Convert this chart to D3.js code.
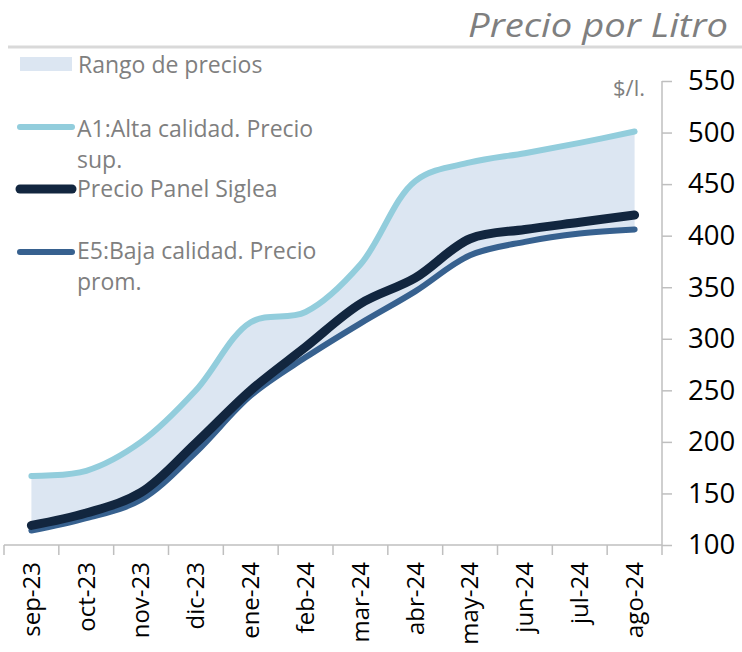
<!DOCTYPE html>
<html><head><meta charset="utf-8">
<script src="https://cdn.jsdelivr.net/npm/d3@7"></script>
<style>body{margin:0;background:#fff}svg{display:block}</style>
</head><body>
<script>
const categories = ["sep-23","oct-23","nov-23","dic-23","ene-24","feb-24","mar-24","abr-24","may-24","jun-24","jul-24","ago-24"];
const altaCalidad = [167,172,200,250,316,326,372,453,471,480,490,501];
const panelSiglea = [119,131,151,199,250,292,334,359,397,406,413,420];
const bajaCalidad = [114,126,144,190,245,282,315,346,381,394,402,406];
const yTicks = [100,150,200,250,300,350,400,450,500,550];
const title = "Precio por Litro";
const unit = "$/l.";
const legendItems = ["Rango de precios","A1:Alta calidad. Precio sup.","Precio Panel Siglea","E5:Baja calidad. Precio prom."];

const W = 742, H = 652;
const svg = d3.select("body").append("svg").attr("width", W).attr("height", H);
const font = "'Open Sans', sans-serif";

const x = d3.scaleBand().domain(categories).range([4, 662]);
const y = d3.scaleLinear().domain([100, 550]).range([545, 81]);
const cx = d => x(d) + x.bandwidth() / 2;

// title + rule
svg.append("text").attr("x", 728).attr("y", 37).attr("text-anchor", "end")
  .attr("font-family", font).attr("font-style", "italic").attr("font-size", 32)
  .attr("textLength", 260).attr("lengthAdjust", "spacingAndGlyphs")
  .attr("fill", "#7f7f7f").text(title);
svg.append("line").attr("x1", 8).attr("x2", 742).attr("y1", 47).attr("y2", 47)
  .attr("stroke", "#d9d9d9").attr("stroke-width", 3);

// area
const rows = categories.map((c, i) => ({c, hi: altaCalidad[i], mid: panelSiglea[i], lo: bajaCalidad[i]}));
const curve = d3.curveCatmullRom.alpha(0.5);
svg.append("path").datum(rows)
  .attr("d", d3.area().x(d => cx(d.c)).y0(d => y(d.lo)).y1(d => y(d.hi)).curve(curve))
  .attr("fill", "#dce6f2");

// axes
const yAxis = d3.axisRight(y).tickValues(yTicks).tickSize(10).tickPadding(16);
const gy = svg.append("g").attr("transform", "translate(662,0)").call(yAxis);
gy.select(".domain").attr("stroke", "#bfbfbf").attr("stroke-width", 1.5).attr("d", "M0,81V545");
gy.selectAll(".tick line").attr("stroke", "#bfbfbf").attr("stroke-width", 1.5);
gy.selectAll(".tick text").attr("font-family", font).attr("font-size", 27.5).attr("fill", "#000");

const xAxis = d3.axisBottom(x).tickSize(0).tickPadding(0);
const gx = svg.append("g").attr("transform", "translate(0,545)").call(xAxis);
gx.select(".domain").attr("stroke", "#bfbfbf").attr("stroke-width", 1.5).attr("d", "M4,0H662");
gx.selectAll(".tick text").attr("font-family", font).attr("font-size", 24).attr("fill", "#000")
  .attr("text-anchor", "end").attr("transform", "translate(0,17) rotate(-90)").attr("dx", 0).attr("dy", "0.35em").attr("y", 0);
// band boundary ticks
const bounds = categories.map(c => x(c)).concat([x.range()[1]]);
svg.append("g").selectAll("line").data(bounds).join("line")
  .attr("x1", d => d).attr("x2", d => d).attr("y1", 545).attr("y2", 555)
  .attr("stroke", "#bfbfbf").attr("stroke-width", 1.5);

svg.append("text").attr("x", 645).attr("y", 96).attr("text-anchor", "end")
  .attr("font-family", font).attr("font-size", 22).attr("fill", "#7f7f7f").text(unit);

// lines
const series = [
  {vals: bajaCalidad, color: "#37618f", w: 6},
  {vals: altaCalidad, color: "#92cddc", w: 6},
  {vals: panelSiglea, color: "#12263f", w: 9}
];
const line = d3.line().x((d, i) => cx(categories[i])).y(d => y(d)).curve(curve);
series.forEach(s => {
  svg.append("path").datum(s.vals).attr("d", line).attr("fill", "none")
    .attr("stroke", s.color).attr("stroke-width", s.w).attr("stroke-linecap", "round").attr("stroke-linejoin", "round");
});

// legend
const lg = svg.append("g").attr("font-family", font).attr("font-size", 23).attr("fill", "#7f7f7f");
lg.append("rect").attr("x", 20).attr("y", 57).attr("width", 52).attr("height", 14).attr("fill", "#dce6f2");
lg.append("text").attr("x", 78).attr("y", 73).text(legendItems[0]);
const legLines = [
  {y: 127, color: "#92cddc", w: 6, lines: ["A1:Alta calidad. Precio", "sup."], ty: 137},
  {y: 189, color: "#12263f", w: 9, lines: ["Precio Panel Siglea"], ty: 197},
  {y: 252, color: "#37618f", w: 6, lines: ["E5:Baja calidad. Precio", "prom."], ty: 259}
];
legLines.forEach(l => {
  lg.append("line").attr("x1", 20).attr("x2", 72).attr("y1", l.y).attr("y2", l.y)
    .attr("stroke", l.color).attr("stroke-width", l.w).attr("stroke-linecap", "round");
  l.lines.forEach((t, i) => lg.append("text").attr("x", 77).attr("y", l.ty + i * 31).text(t));
});
</script>
</body></html>
